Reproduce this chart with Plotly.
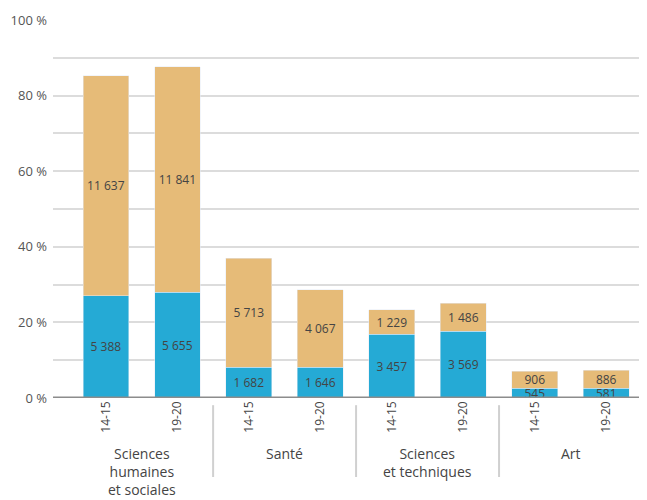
import plotly.graph_objects as go

# categories
periodes = ["14-15", "19-20", "14-15", "19-20", "14-15", "19-20", "14-15", "19-20"]
groupes = ["Sciences<br>humaines<br>et sociales", "Santé", "Sciences<br>et techniques", "Art"]

# part (%)
pct_bleu = [27.0, 28.0, 8.2, 8.2, 16.9, 17.7, 2.6, 2.6]
pct_orange = [58.2, 59.6, 28.8, 20.4, 6.4, 7.4, 4.5, 4.8]

# effectifs affichés dans les barres
txt_bleu = ["5 388", "5 655", "1 682", "1 646", "3 457", "3 569", "545", "581"]
txt_orange = ["11 637", "11 841", "5 713", "4 067", "1 229", "1 486", "906", "886"]

x = list(range(len(periodes)))

fig = go.Figure()
fig.add_trace(go.Bar(
    x=x, y=pct_bleu, text=txt_bleu, marker_color="#25AAD5",
    textposition="inside", insidetextanchor="middle", textangle=0,
    textfont=dict(color="#444444", size=12), showlegend=False,
))
fig.add_trace(go.Bar(
    x=x, y=pct_orange, text=txt_orange, marker_color="#E6BB78",
    textposition="inside", insidetextanchor="middle", textangle=0,
    textfont=dict(color="#444444", size=12), showlegend=False,
))

# la page ajoute une marge de 8 px autour du graphique
fig.update_layout(
    width=647, height=500,
    barmode="stack", bargap=0.36,
    plot_bgcolor="white", paper_bgcolor="white",
    margin=dict(l=45, r=13, t=12, b=110),
    font=dict(family="Open Sans", color="#444444"),
    uniformtext=dict(minsize=12, mode="show"),
)

fig.update_xaxes(
    tickmode="array", tickvals=x, ticktext=periodes, tickangle=-90,
    range=[-0.74, 7.5], showgrid=False, zeroline=False, automargin=False,
    tickfont=dict(size=12, color="#444444"), ticks="",
)

fig.update_yaxes(
    range=[0, 100], dtick=20, ticksuffix=" %",
    gridcolor="#DCDCDC", gridwidth=2, automargin=False,
    minor=dict(dtick=10, showgrid=True, gridcolor="#DCDCDC", gridwidth=2),
    zeroline=False, tickfont=dict(size=13, color="#555555"),
    ticklabelstandoff=5,
)

# ligne de base
fig.add_shape(type="line", xref="paper", yref="y", x0=0, x1=1, y0=0, y1=0,
              line=dict(color="#8C8C8C", width=3))

# séparateurs des groupes
for xs in [1.5, 3.5, 5.5]:
    fig.add_shape(type="line", xref="x", yref="paper", x0=xs, x1=xs,
                  y0=-0.019, y1=-0.209, line=dict(color="#D0D0D0", width=2))

# noms des groupes
for i, g in enumerate(groupes):
    fig.add_annotation(x=2 * i + 0.5, y=-0.117, xref="x", yref="paper",
                       text=g, showarrow=False, yanchor="top",
                       font=dict(size=14, color="#444444"))

fig.write_html("out.html")
